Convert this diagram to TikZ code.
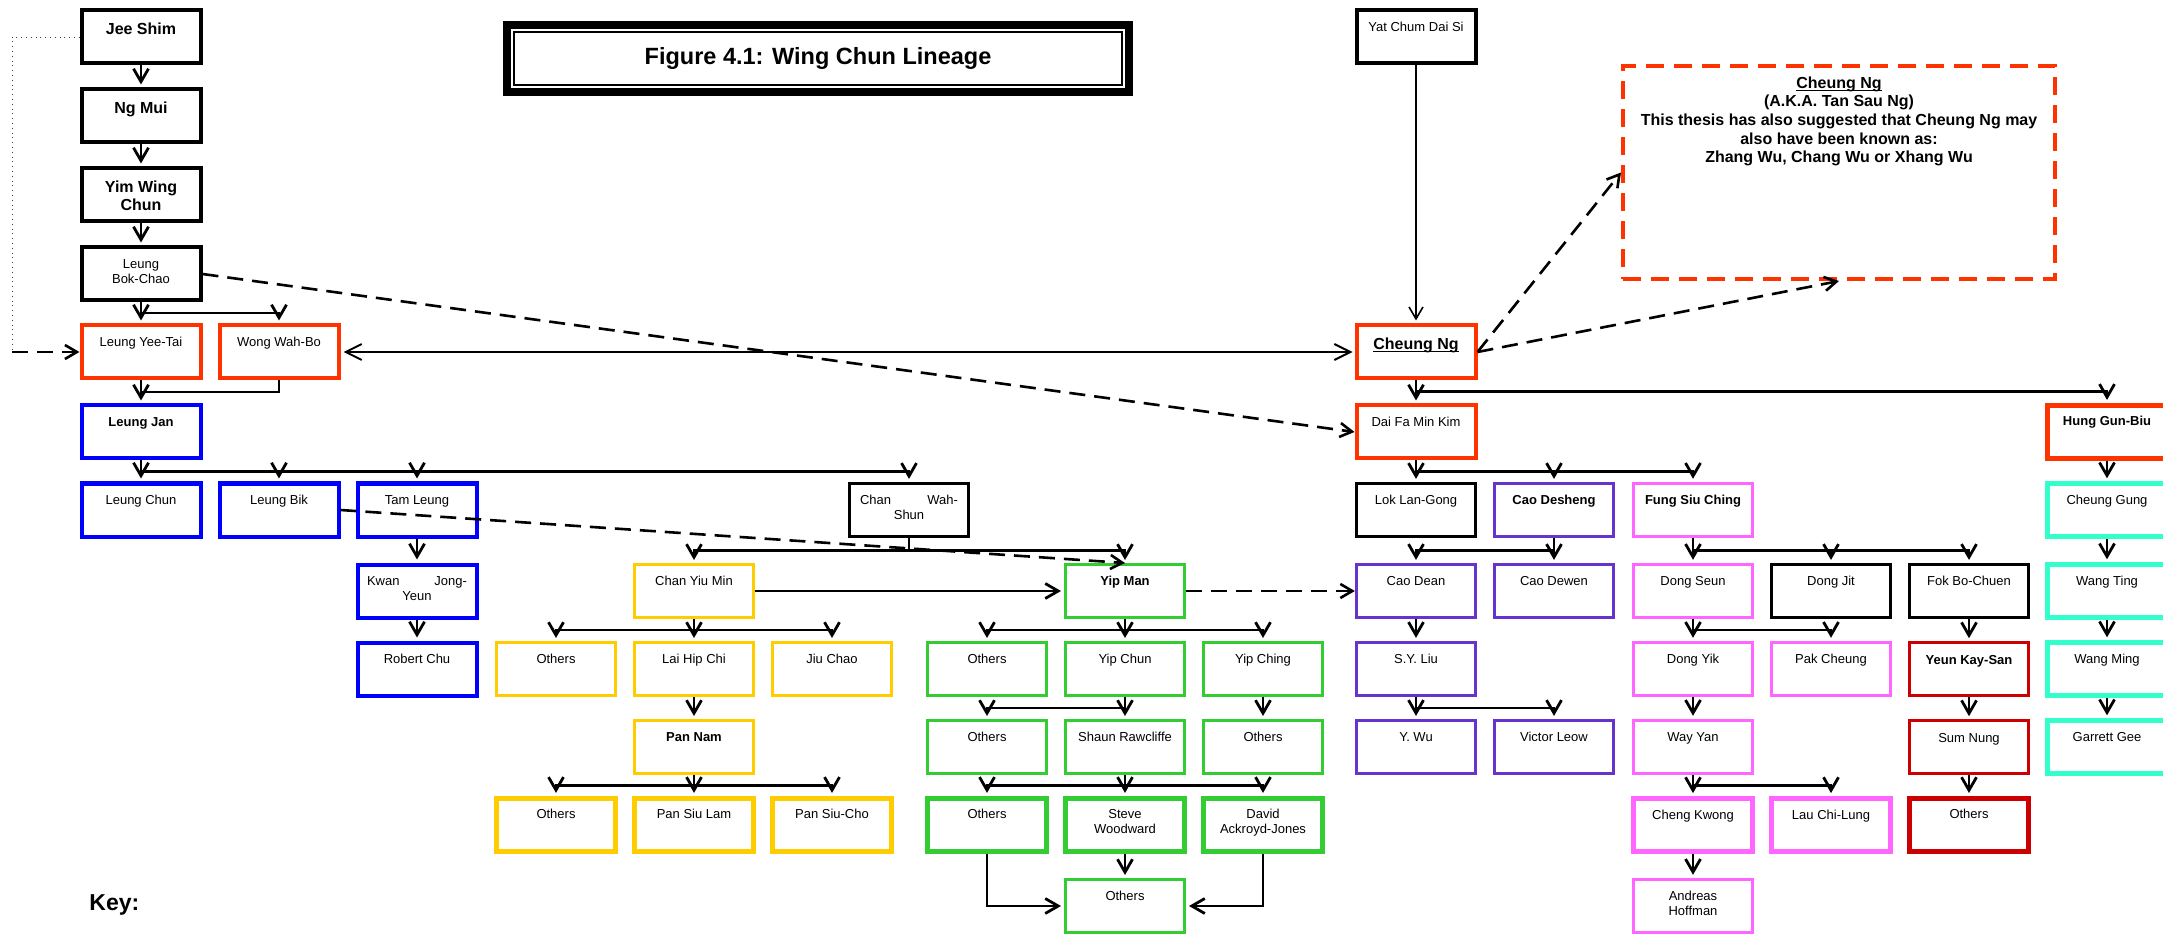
\documentclass[tikz,border=0pt]{standalone}
\usepackage{fontspec}
\setmainfont{Liberation Sans}
\usetikzlibrary{arrows.meta,calc}

% underline drawn just below the baseline
\newcommand\undl[1]{\leavevmode\setbox0\hbox{#1}\rlap{\rule[-1.3pt]{\wd0}{0.6pt}}\box0}

\definecolor{cOrange}{RGB}{255,51,0}
\definecolor{cBlue}{RGB}{0,0,255}
\definecolor{cYellow}{RGB}{255,204,0}
\definecolor{cGreen}{RGB}{51,204,51}
\definecolor{cPurple}{RGB}{102,51,204}
\definecolor{cPink}{RGB}{255,102,255}
\definecolor{cDRed}{RGB}{204,0,0}
\definecolor{cCyan}{RGB}{51,255,204}

\newcommand\fReg{\fontsize{6.5}{7.5}\selectfont}
\newcommand\fBold{\fontsize{6.5}{7.5}\selectfont\bfseries}
\newcommand\fBig{\fontsize{8}{9.3}\selectfont\bfseries}

\tikzset{
  pbox/.style={draw, rectangle, minimum width=59.5pt, minimum height=26.5pt, inner sep=0pt},
  blk/.style={pbox, line width=2pt},
  blkm/.style={pbox, line width=1.6pt},
  org/.style={pbox, draw=cOrange, line width=2pt},
  orgT/.style={pbox, draw=cOrange, line width=2.6pt},
  blu/.style={pbox, draw=cBlue, line width=2pt},
  ylw/.style={pbox, draw=cYellow, line width=1.5pt},
  ylwT/.style={pbox, draw=cYellow, line width=2.6pt},
  grn/.style={pbox, draw=cGreen, line width=1.5pt},
  grnT/.style={pbox, draw=cGreen, line width=2.6pt},
  pur/.style={pbox, draw=cPurple, line width=1.6pt},
  pnk/.style={pbox, draw=cPink, line width=1.7pt},
  pnkT/.style={pbox, draw=cPink, line width=2.4pt},
  dred/.style={pbox, draw=cDRed, line width=1.3pt},
  dredT/.style={pbox, draw=cDRed, line width=2.5pt},
  cyn/.style={pbox, draw=cCyan, line width=2.2pt},
  lbl/.style={anchor=north, inner sep=0pt, align=center, font=\fReg},
  conn/.style={line width=1.4pt, -{Straight Barb[length=6.5pt,width=7.5pt]}, shorten >=1.5pt},
  dconn/.style={line width=1.3pt, dash pattern=on 8pt off 4.5pt, -{Straight Barb[length=6pt,width=7pt]}},
}

% a person: [text style]{box style}{name}{x,y}{text}
\newcommand\person[5][]{%
  \node[#2] (#3) at (#4) {};
  \node[lbl,#1] at ([yshift=-4.75pt]#3.north) {\rule{0pt}{1em}#5};
}
% elbow connectors from a teacher to each student
\newcommand\kids[2]{%
  \foreach \ch in {#2}{%
    \draw[conn] (#1.south) |- ($(#1.south)!0.5!(\ch.north)$) -| (\ch.north);
  }%
}

\begin{document}
\begin{tikzpicture}[x=0.5pt, y=-0.5pt]
\useasboundingbox (0,0) rectangle (2163,935);
\clip (0,0) rectangle (2163,935);

% title
\node[draw, line width=4pt, minimum width=311pt, minimum height=33.5pt,
      font=\fontsize{11.75}{14}\selectfont\bfseries] (title) at (818,58.5) {Figure 4.1: Wing Chun Lineage};
\draw[line width=0.85pt] ($(title.north west)+(11,11)$) rectangle ($(title.south east)+(-11,-11)$);

% early line
\person[font=\fBig]{blk}{js}{141,37}{Jee Shim}
\person[font=\fBig]{blk}{nm}{141,116}{Ng Mui}
\person[font=\fBig]{blk}{ywc}{141,195}{Yim Wing\\Chun}
\person{blk}{lbc}{141,274}{Leung\\Bok-Chao}
\person{org}{lyt}{141,352}{Leung Yee-Tai}
\person{org}{wwb}{279,352}{Wong Wah-Bo}

% Leung Jan branch
\person[font=\fBold]{blu}{lj}{141,432}{Leung Jan}
\person{blu}{lc}{141,510}{Leung Chun}
\person{blu}{lb}{279,510}{Leung Bik}
\person{blu}{tl}{417,510}{Tam Leung}
\person{blu}{kjy}{417,591}{\hbox to 50pt{Kwan\hfill Jong-}\\Yeun}
\person{blu}{rc}{417,669}{Robert Chu}
\person{blkm}{cws}{909,510}{\hbox to 49pt{Chan\hfill Wah-}\\Shun}

% Chan Yiu Min branch
\person{ylw}{cym}{694,591}{Chan Yiu Min}
\person{ylw}{yo1}{556,669}{Others}
\person{ylw}{lhc}{694,669}{Lai Hip Chi}
\person{ylw}{jc}{832,669}{Jiu Chao}
\person[font=\fBold]{ylw}{pn}{694,747}{Pan Nam}
\person{ylwT}{yo2}{556,825}{Others}
\person{ylwT}{psl}{694,825}{Pan Siu Lam}
\person{ylwT}{psc}{832,825}{Pan Siu-Cho}

% Yip Man branch
\person[font=\fBold]{grn}{ym}{1125,591}{Yip Man}
\person{grn}{go1}{987,669}{Others}
\person{grn}{ychun}{1125,669}{Yip Chun}
\person{grn}{yching}{1263,669}{Yip Ching}
\person{grn}{go2}{987,747}{Others}
\person{grn}{sr}{1125,747}{Shaun Rawcliffe}
\person{grn}{go3}{1263,747}{Others}
\person{grnT}{go4}{987,825}{Others}
\person{grnT}{sw}{1125,825}{Steve\\Woodward}
\person{grnT}{dac}{1263,825}{David\\Ackroyd-Jones}
\person{grn}{go5}{1125,906}{Others}

% Cheung Ng line
\person{blk}{ycds}{1416,37}{Yat Chum Dai Si}
\person[font=\fBig]{org}{cn}{1416,352}{\undl{Cheung Ng}}
\person{org}{dfmk}{1416,432}{Dai Fa Min Kim}
\person[font=\fBold]{orgT}{hgb}{2107,432}{Hung Gun-Biu}
\person{blkm}{llg}{1416,510}{Lok Lan-Gong}
\person[font=\fBold]{pur}{cds}{1554,510}{Cao Desheng}
\person[font=\fBold]{pnk}{fsc}{1693,510}{Fung Siu Ching}
\person{pur}{cdean}{1416,591}{Cao Dean}
\person{pur}{cdewen}{1554,591}{Cao Dewen}
\person{pur}{syl}{1416,669}{S.Y. Liu}
\person{pur}{yw}{1416,747}{Y. Wu}
\person{pur}{vl}{1554,747}{Victor Leow}
\person{pnk}{ds}{1693,591}{Dong Seun}
\person{blkm}{dj}{1831,591}{Dong Jit}
\person{blkm}{fbc}{1969,591}{Fok Bo-Chuen}
\person{pnk}{dy}{1693,669}{Dong Yik}
\person{pnk}{pc}{1831,669}{Pak Cheung}
\person{pnk}{wy}{1693,747}{Way Yan}
\person{pnkT}{ck}{1693,825}{Cheng Kwong}
\person{pnkT}{lcl}{1831,825}{Lau Chi-Lung}
\person{pnk}{ah}{1693,906}{Andreas\\Hoffman}
\person[font=\fBold]{dred}{yks}{1969,669}{Yeun Kay-San}
\person{dred}{sn}{1969,747}{Sum Nung}
\person{dredT}{ro}{1969,825}{Others}
\person{cyn}{cg}{2107,510}{Cheung Gung}
\person{cyn}{wt}{2107,591}{Wang Ting}
\person{cyn}{wm}{2107,669}{Wang Ming}
\person{cyn}{gg}{2107,747}{Garrett Gee}

% note on Cheung Ng
\node[draw=cOrange, line width=2pt, dash pattern=on 9pt off 5pt,
      minimum width=216pt, minimum height=106.5pt] (note) at (1839,172.5) {};
\node[lbl, font=\fBig] at ([yshift=-4pt]note.north)
  {\rule{0pt}{1em}\undl{Cheung Ng}\\(A.K.A. Tan Sau Ng)\\This thesis has also suggested that Cheung Ng may\\also have been known as:\\Zhang Wu, Chang Wu or Xhang Wu};

\node[anchor=base west, inner sep=0pt, font=\fontsize{11.5}{13}\selectfont\bfseries] (key) at (89,910) {Key:};

% lineage connectors
\kids{js}{nm}
\kids{nm}{ywc}
\kids{ywc}{lbc}
\kids{lbc}{lyt,wwb}
\kids{lyt}{lj}
\draw[line width=1.4pt] (wwb.south) |- ($(lyt.south)!0.5!(lj.north)$);
\kids{lj}{lc,lb,tl,cws}
\kids{tl}{kjy}
\kids{kjy}{rc}
\kids{cws}{cym,ym}
\draw[conn] (cym.east) -- (ym.west);
\kids{cym}{yo1,lhc,jc}
\kids{lhc}{pn}
\kids{pn}{yo2,psl,psc}
\kids{ym}{go1,ychun,yching}
\kids{ychun}{go2,sr}
\kids{yching}{go3}
\kids{sr}{go4,sw,dac}
\kids{sw}{go5}
\draw[conn] (go4.south) |- (go5.west);
\draw[conn] (dac.south) |- (go5.east);

\draw[line width=0.8pt, -{Straight Barb[length=6pt,width=7pt]}, shorten >=1.5pt] (ycds.south) -- (cn.north);
\draw[line width=1pt, {Straight Barb[length=8pt,width=8pt]}-{Straight Barb[length=8pt,width=8pt]},
      shorten <=1.5pt, shorten >=1pt] (wwb.east) -- (cn.west);
\kids{cn}{dfmk,hgb}
\kids{dfmk}{llg,cds,fsc}
\kids{cds}{cdean,cdewen}
\kids{cdean}{syl}
\kids{syl}{yw,vl}
\kids{fsc}{ds,dj,fbc}
\kids{ds}{dy,pc}
\kids{dy}{wy}
\kids{wy}{ck,lcl}
\kids{ck}{ah}
\kids{fbc}{yks}
\kids{yks}{sn}
\kids{sn}{ro}
\kids{hgb}{cg}
\kids{cg}{wt}
\kids{wt}{wm}
\kids{wm}{gg}

% uncertain links
\coordinate (lft) at (12,352);
\draw[line width=0.4pt, dotted, black!75] (js.west) -| (lft);
\draw[dconn] (lft) -- (lyt.west);
\draw[dconn] (lbc.east) -- (dfmk.west);
\draw[dconn] (lb.east) -- (ym.north);
\draw[dconn] (ym.east) -- (cdean.west);
\draw[dconn] (cn.east) -- (note.west);
\draw[dconn] (cn.east) -- (note.south);
\end{tikzpicture}
\end{document}
